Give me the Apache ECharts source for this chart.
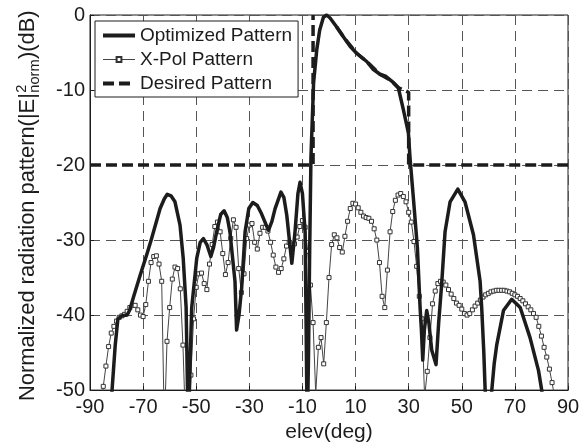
<!DOCTYPE html>
<html>
<head>
<meta charset="utf-8">
<script src="https://cdn.jsdelivr.net/npm/echarts@6/dist/echarts.min.js"></script>
<style>
html,body{margin:0;padding:0;background:#fff;}
#chart{width:588px;height:448px;}
</style>
</head>
<body>
<div id="chart"></div>
<script>
// ---- data ----
const xTicks = [-90, -70, -50, -30, -10, 10, 30, 50, 70, 90];
const yTicks = [-50, -40, -30, -20, -10, 0];

// Optimized pattern (elev deg, dB)
const optElev = [-83, -81.7, -80.5, -79.5, -78, -76, -75, -73.7, -71.2, -68.5, -66.8, -63.6, -62, -60.9, -59.5, -58, -56.1, -54.9, -53.8, -53, -52.2, -51.7, -49.8, -48.5, -47.3, -46, -44.5, -43.5, -42.3, -40.8, -39.5, -38.3, -37.3, -35.4, -34.8, -33.9, -32.9, -31.6, -30.2, -28.7, -27, -25.4, -22.8, -21.5, -20.3, -18.1, -17, -15.9, -14, -12.8, -11.7, -10.9, -10, -9, -8.6, -8.2, -7.7, -7.3, -6.8, -5.8, -4.6, -3.5, -2.1, -0.9, 0.4, 2.9, 5.4, 8, 10.4, 14.2, 16.5, 19.2, 21.5, 23.6, 26.1, 28, 29.9, 30.5, 31.8, 33.3, 34.3, 34.8, 35.3, 35.9, 36.8, 37.6, 38.7, 40.3, 41.3, 42.4, 43.7, 45.6, 48.5, 51.2, 54.4, 56.9, 57.5, 58.3, 58.8, 59.8, 61.3, 62.2, 63.2, 65.7, 68.8, 72, 75.7, 78.9, 80.1, 81];
const optDb = [-56, -50, -44, -40.5, -40.1, -40, -39.3, -37.7, -34.8, -31.8, -29.8, -25.8, -24.5, -23.9, -24.1, -24.9, -28, -32.4, -39, -56, -45, -39, -32.4, -30.3, -29.8, -30.6, -32.2, -31, -28.9, -26.6, -26.1, -27, -28.9, -35.5, -42, -40, -36.4, -28.9, -25.8, -25, -25.4, -26.5, -28.7, -27.5, -25.8, -23.6, -24.3, -26.7, -33.1, -28.9, -23.8, -22.3, -23.8, -28.9, -42, -56, -45, -32, -19, -9, -4.6, -2, -0.3, 0, -0.4, -1.6, -2.9, -4.2, -5.1, -6.2, -7.2, -7.9, -8.2, -8.8, -9.7, -12.6, -15.7, -19, -24.5, -31.1, -39, -42, -46, -42, -39.4, -41, -44.7, -46.6, -41, -36, -28.9, -24.9, -23.2, -24.9, -29.3, -35.5, -39, -45, -50, -56, -50, -46.5, -43.9, -39.4, -37.9, -39, -43, -47.4, -50, -53];

// X-Pol pattern, sampled every 1 deg from -90 to 90
const xpolStart = -90;
const xpolStep = 1;
const xpolDb = [
  -66, -63, -60, -57, -53, -49.5, -46.8, -44.2, -42.4, -41.5,
  -40.8, -40.3, -40.1, -39.9, -39.5, -39, -38.7, -38.7, -39.3, -40,
  -40.2, -38.6, -35.5, -33, -32.2, -32.1, -33.2, -35.5, -55, -43.5,
  -39, -35.2, -33.6, -33.8, -36.5, -44, -55, -58, -48, -40.5,
  -36.3, -34.5, -34.4, -35.8, -36.6, -33.2, -30.6, -28.2, -27.6, -28.9,
  -31.8, -34.6, -33, -29.8, -27.3, -28.3, -33.8, -37, -34.5, -29.8,
  -28, -27.8, -30.3, -31.2, -29.1, -28.3, -28.3, -28.8, -30.3, -32,
  -33.6, -34.3, -33.8, -32.5, -30.8, -30.3, -31, -30.5, -29.6, -28.2,
  -27.4, -28.3, -31.5, -36, -41, -50.5, -44.3, -43, -46.5, -41,
  -35, -30.6, -29.3, -29.7, -31, -31.6, -29.5, -27.5, -25.8, -25.1,
  -25.2, -25.7, -26.3, -26.8, -27, -27.1, -27.5, -28.5, -30, -33,
  -37.5, -39, -34, -28.9, -26.2, -24.7, -24, -23.8, -24.2, -24.9,
  -26.3, -27.6, -30.2, -33.5, -37.5, -40.5, -51, -47.5, -43, -38.5,
  -36.8, -35.8, -35.5, -35.6, -36, -36.6, -37.2, -37.8, -38.4, -38.7,
  -39.2, -39.8, -40, -39.8, -39.3, -38.8, -38.4, -38, -37.6, -37.3,
  -37.1, -36.9, -36.8, -36.7, -36.7, -36.7, -36.7, -36.8, -36.9, -37.1,
  -37.3, -37.5, -37.8, -38.1, -38.5, -38.9, -39.3, -39.8, -40.3, -41.5,
  -42.8, -44.3, -45.6, -47.2, -49, -51, -53, -56, -59, -62,
  -66
];

// Desired pattern (null = gap; shaped part lies under the optimized main lobe)
const desElev = [-90, -6, -6, null, 2.9, 5.4, 10.4, 14.2, 19.2, 23.6, 26.1, 30, 30, 90];
const desDb = [-20, -20, 0, null, -1.6, -2.9, -5.1, -6.2, -7.9, -8.8, -9.7, -10.3, -20, -20];

const seriesNames = ['Optimized Pattern', 'X-Pol Pattern', 'Desired Pattern'];
const xName = 'elev(deg)';
const yNameMain = 'Normalized radiation pattern(|E|';
const yNameSup = '2';
const yNameSub = 'norm';
const yNameEnd = ')(dB)';

// ---- build ----
const FONT = '"Liberation Sans", Arial, Helvetica, sans-serif';
const INK = '#1c1c1c';
const zip = (a, b) => a.map((v, i) => (v === null ? [null, null] : [v, b[i]]));
const xpolData = xpolDb.map((v, i) => [xpolStart + i * xpolStep, v]);

// y-axis title as rotated graphic, measured pieces
const cv = document.createElement('canvas').getContext('2d');
function tw(t, fs) { cv.font = fs + 'px ' + FONT; return cv.measureText(t).width; }
let fsMain = 21, fsSmall = 14;
const targetLen = 391;
let L = tw(yNameMain, fsMain) + Math.max(tw(yNameSup, fsSmall), tw(yNameSub, fsSmall)) + 1 + tw(yNameEnd, fsMain);
const k = targetLen / L;
fsMain = fsMain * k; fsSmall = fsSmall * k;
const w1 = tw(yNameMain, fsMain);
const wS = Math.max(tw(yNameSup, fsSmall), tw(yNameSub, fsSmall));
function piece(t, x, base, fs) {
  return { type: 'text', x: x, y: base - 0.31 * fs,
    style: { text: t, font: fs + 'px ' + FONT, fill: INK, verticalAlign: 'middle', align: 'left' } };
}
const titleGroup = {
  type: 'group', x: 35, y: 401, rotation: Math.PI / 2,
  children: [
    piece(yNameMain, 0, 0, fsMain),
    piece(yNameSup, w1 + 0.5, -9, fsSmall),
    piece(yNameSub, w1 + 0.5, 4.5, fsSmall),
    piece(yNameEnd, w1 + wS + 1, 0, fsMain)
  ]
};

const hiddenSymbol = { opacity: 0, color: 'rgba(0,0,0,0)', borderWidth: 0 };

const chart = echarts.init(document.getElementById('chart'), null, { renderer: 'canvas' });
chart.setOption({
  animation: false,
  backgroundColor: '#fff',
  grid: { left: 90, right: 20, top: 15, bottom: 55, show: true, borderColor: INK, borderWidth: 1, backgroundColor: 'transparent' },
  legend: {
    orient: 'vertical', left: 95, top: 21,
    padding: [5, 6, 4, 6], itemGap: 5, itemWidth: 32, itemHeight: 6,
    borderColor: INK, borderWidth: 1, backgroundColor: '#fff',
    textStyle: { fontFamily: FONT, fontSize: 19, color: INK },
    data: [
      { name: seriesNames[0], itemStyle: hiddenSymbol, lineStyle: { width: 4 } },
      { name: seriesNames[1], lineStyle: { width: 1 } },
      { name: seriesNames[2], itemStyle: hiddenSymbol, lineStyle: { width: 4, type: [11, 5] } }
    ]
  },
  xAxis: {
    type: 'value', min: xTicks[0], max: xTicks[xTicks.length - 1], interval: 20,
    name: xName, nameLocation: 'middle', nameGap: 28,
    nameTextStyle: { fontFamily: FONT, fontSize: 21, color: INK },
    axisLine: { onZero: false, lineStyle: { color: INK, width: 1 } },
    axisTick: { show: true, inside: true, length: 4, lineStyle: { color: INK } },
    axisLabel: { fontFamily: FONT, fontSize: 20, color: INK, margin: 7 },
    splitLine: { show: true, lineStyle: { color: '#555', width: 1, type: [10, 6] } }
  },
  yAxis: {
    type: 'value', min: yTicks[0], max: yTicks[yTicks.length - 1], interval: 10,
    axisLine: { show: true, onZero: false, lineStyle: { color: INK, width: 1 } },
    axisTick: { show: true, inside: true, length: 4, lineStyle: { color: INK } },
    axisLabel: { fontFamily: FONT, fontSize: 20, color: INK, margin: 5 },
    splitLine: { show: true, lineStyle: { color: '#555', width: 1, type: [10, 6] } }
  },
  graphic: [titleGroup],
  series: [
    {
      name: seriesNames[0], type: 'line', data: zip(optElev, optDb),
      symbol: 'none', smooth: false, clip: true,
      lineStyle: { color: INK, width: 3.5, join: 'round' },
      itemStyle: { color: INK }, z: 3
    },
    {
      name: seriesNames[1], type: 'line', data: xpolData,
      symbol: 'rect', symbolSize: 4, showSymbol: true, showAllSymbol: true, clip: true,
      lineStyle: { color: '#444', width: 1 },
      itemStyle: { color: '#fff', borderColor: '#333', borderWidth: 1 }, z: 2
    },
    {
      name: seriesNames[2], type: 'line', data: zip(desElev, desDb),
      symbol: 'none', clip: true, connectNulls: false,
      lineStyle: { color: INK, width: 3.5, type: [11, 5] },
      itemStyle: { color: INK }, z: 4
    }
  ]
});
</script>
</body>
</html>
